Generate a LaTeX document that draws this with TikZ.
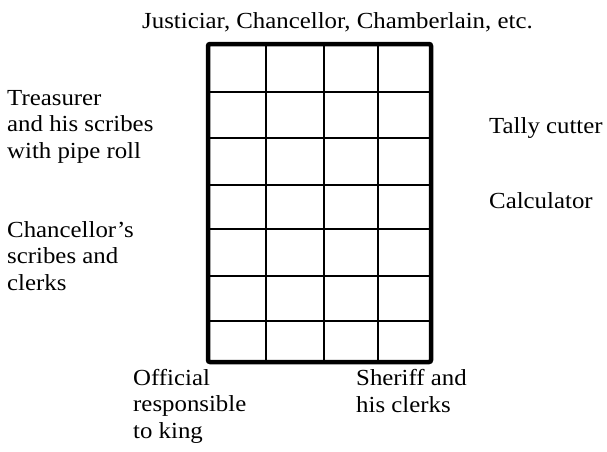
\documentclass[tikz,border=0pt]{standalone}
\usepackage{fontspec}
\setmainfont{Liberation Serif}[FakeStretch=1.08]
\begin{document}
\begin{tikzpicture}[x=1pt,y=-1pt,
  lbl/.style={anchor=base west,align=left,inner sep=0pt,font=\fontsize{23}{26.5}\selectfont},
  outer/.style={line width=4.5pt,rounded corners=2pt},
  inner/.style={line width=2.6pt}]
\useasboundingbox (0,0) rectangle (607,451);
% grid
\foreach \x in {266,324,378}
  \draw[inner] (\x,44) -- (\x,362);
\foreach \y in {92,138,185,229,276,321}
  \draw[inner] (208,\y) -- (431,\y);
\draw[outer] (208,44) rectangle (431,362);
% labels (anchor = baseline of last line)
\node[lbl] (title) at (142,28) {Justiciar, Chancellor, Chamberlain, etc.};
\node[lbl] (treas) at (7,158) {Treasurer\\and his scribes\\with pipe roll};
\node[lbl] (chanc) at (7,290) {Chancellor's\\scribes and\\clerks};
\node[lbl] (tally) at (489,133) {Tally cutter};
\node[lbl] (calc) at (489,208) {Calculator};
\node[lbl] (offic) at (133,438) {Official\\responsible\\to king};
\node[lbl] (sher) at (356,412) {Sheriff and\\his clerks};
\end{tikzpicture}
\end{document}
